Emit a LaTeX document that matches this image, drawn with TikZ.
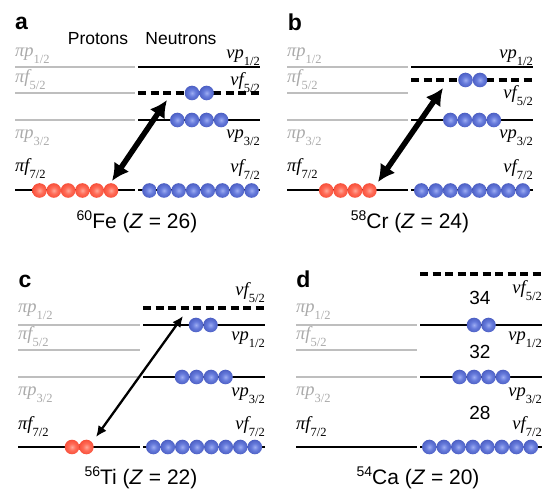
\documentclass[tikz,border=0pt]{standalone}
\usepackage{fontspec}
\setmainfont{Liberation Sans}
\newfontfamily\lserif{Liberation Serif}
\usetikzlibrary{arrows.meta}
\definecolor{lvgray}{HTML}{BEBEBE}
\definecolor{lbgray}{HTML}{AAAAAA}
\pgfdeclareradialshading{bluesph}{\pgfpoint{0bp}{0bp}}{rgb(0bp)=(0.62,0.68,0.95); rgb(12bp)=(0.40,0.48,0.86); rgb(35bp)=(0.23,0.30,0.70); rgb(50bp)=(0.16,0.21,0.56); rgb(75bp)=(0.16,0.21,0.56)}
\pgfdeclareradialshading{redsph}{\pgfpoint{0bp}{0bp}}{rgb(0bp)=(1,0.66,0.60); rgb(12bp)=(1,0.42,0.34); rgb(35bp)=(0.95,0.24,0.15); rgb(50bp)=(0.84,0.16,0.10); rgb(75bp)=(0.84,0.16,0.10)}
\newcommand\orb[3]{{\lserif\fontsize{18.5}{18.5}\selectfont\itshape #1#2\raisebox{-7pt}{\upshape\fontsize{12.5}{12.5}\selectfont #3}}}
\newcommand\nuc[3]{{\fontsize{14}{14}\selectfont\raisebox{8pt}{#1}}#2 (\textit{Z} = #3)}
\tikzset{
  lvl/.style={line width=2pt},
  glvl/.style={line width=2pt, draw=lvgray},
  dlvl/.style={line width=3.6pt, dash pattern=on 8pt off 4.5pt},
  nb/.style={circle, minimum size=14.6pt, inner sep=0pt, shade, shading=bluesph},
  pb/.style={circle, minimum size=14.6pt, inner sep=0pt, shade, shading=redsph},
  plab/.style={anchor=base west, inner sep=0pt, text=lbgray},
  plabk/.style={anchor=base west, inner sep=0pt},
  nlab/.style={anchor=base east, inner sep=0pt},
  panel/.style={font=\fontsize{23}{23}\selectfont\bfseries, anchor=base, inner sep=0pt},
  captext/.style={font=\fontsize{17.5}{20}\selectfont, anchor=base, inner sep=0pt},
  nuctext/.style={font=\fontsize{21}{24}\selectfont, anchor=base, inner sep=0pt},
  magic/.style={font=\fontsize{19}{22}\selectfont, anchor=base, inner sep=0pt},
  bigarr/.style={line width=5.5pt, {Latex[length=17pt,width=18pt]}-{Latex[length=17pt,width=18pt]}},
  thinarr/.style={line width=2.3pt, {Latex[length=11pt,width=10pt]}-{Latex[length=11pt,width=10pt]}}
}
\begin{document}
\begin{tikzpicture}[x=1pt,y=-1pt]
\useasboundingbox (0,0) rectangle (550,500);
% ---------------- panel a ----------------
\node[panel] (la) at (21.5,30) {a};
\node[captext] (prot) at (98,45) {Protons};
\node[captext] (neut) at (181,45) {Neutrons};
\draw[glvl] (15,67) -- (135,67);
\draw[glvl] (15,93) -- (135,93);
\draw[glvl] (15,120) -- (135,120);
\draw[lvl] (15,190.5) -- (135,190.5);
\draw[lvl] (138,67) -- (260,67);
\draw[dlvl] (138,93) -- (260,93);
\draw[lvl] (138,120) -- (260,120);
\draw[lvl] (138,190.5) -- (260,190.5);
\node[plab] (a-pp1) at (15,56.5) {\orb{π}{p}{1/2}};
\node[plab] (a-pf5) at (15,82.5) {\orb{π}{f}{5/2}};
\node[plab] (a-pp3) at (15,138.5) {\orb{π}{p}{3/2}};
\node[plabk] (a-pf7) at (15,172) {\orb{π}{f}{7/2}};
\node[nlab] (a-np1) at (260,58.5) {\orb{ν}{p}{1/2}};
\node[nlab] (a-nf5) at (260,85.5) {\orb{ν}{f}{5/2}};
\node[nlab] (a-np3) at (260,139) {\orb{ν}{p}{3/2}};
\node[nlab] (a-nf7) at (260,173) {\orb{ν}{f}{7/2}};
\coordinate (a-lo) at (112,181);
\coordinate (a-hi) at (167,100);
\draw[bigarr] (a-lo) -- (a-hi);
\foreach \i in {0,...,5} \node[pb] (a-r\i) at (39.5+\i*14.3,190.5) {};
\foreach \i in {0,...,7} \node[nb] (a-b\i) at (149.4+\i*14.6,190.5) {};
\foreach \i in {0,...,3} \node[nb] (a-p\i) at (177.3+\i*14.6,120) {};
\foreach \i in {0,1} \node[nb] (a-f\i) at (192+\i*14.6,93) {};
\node[nuctext] (a-cap) at (137,229) {\nuc{60}{Fe}{26}};
% ---------------- panel b ----------------
\node[panel] (lb) at (295,31) {b};
\draw[glvl] (287,67) -- (408,67);
\draw[glvl] (287,93) -- (408,93);
\draw[glvl] (287,120) -- (408,120);
\draw[lvl] (287,190.5) -- (408,190.5);
\draw[lvl] (411,67) -- (533,67);
\draw[dlvl] (411,80) -- (533,80);
\draw[lvl] (411,120) -- (533,120);
\draw[lvl] (411,190.5) -- (533,190.5);
\node[plab] (b-pp1) at (287,56.5) {\orb{π}{p}{1/2}};
\node[plab] (b-pf5) at (287,82.5) {\orb{π}{f}{5/2}};
\node[plab] (b-pp3) at (287,138.5) {\orb{π}{p}{3/2}};
\node[plabk] (b-pf7) at (287,172) {\orb{π}{f}{7/2}};
\node[nlab] (b-np1) at (533,58.5) {\orb{ν}{p}{1/2}};
\node[nlab] (b-nf5) at (533,99) {\orb{ν}{f}{5/2}};
\node[nlab] (b-np3) at (533,139) {\orb{ν}{p}{3/2}};
\node[nlab] (b-nf7) at (533,173) {\orb{ν}{f}{7/2}};
\coordinate (b-lo) at (378,182);
\coordinate (b-hi) at (443,88);
\draw[bigarr] (b-lo) -- (b-hi);
\foreach \i in {0,...,3} \node[pb] (b-r\i) at (326.2+\i*14.4,190.5) {};
\foreach \i in {0,...,7} \node[nb] (b-b\i) at (421.3+\i*14.5,190.5) {};
\foreach \i in {0,...,3} \node[nb] (b-p\i) at (450.3+\i*14.5,120) {};
\foreach \i in {0,1} \node[nb] (b-f\i) at (465.5+\i*14.5,80) {};
\node[nuctext] (b-cap) at (410,229) {\nuc{58}{Cr}{24}};
% ---------------- panel c ----------------
\node[panel] (lc) at (25,288) {c};
\draw[glvl] (18,325) -- (140,325);
\draw[glvl] (18,350) -- (140,350);
\draw[glvl] (18,377) -- (140,377);
\draw[lvl] (18,447) -- (140,447);
\draw[dlvl] (143,308) -- (265,308);
\draw[lvl] (143,325) -- (265,325);
\draw[lvl] (143,377) -- (265,377);
\draw[lvl] (143,447) -- (265,447);
\node[plab] (c-pp1) at (18,313) {\orb{π}{p}{1/2}};
\node[plab] (c-pf5) at (18,340) {\orb{π}{f}{5/2}};
\node[plab] (c-pp3) at (18,395.5) {\orb{π}{p}{3/2}};
\node[plabk] (c-pf7) at (18,430) {\orb{π}{f}{7/2}};
\node[nlab] (c-nf5) at (265,296) {\orb{ν}{f}{5/2}};
\node[nlab] (c-np1) at (265,341) {\orb{ν}{p}{1/2}};
\node[nlab] (c-np3) at (265,396) {\orb{ν}{p}{3/2}};
\node[nlab] (c-nf7) at (265,430) {\orb{ν}{f}{7/2}};
\coordinate (c-lo) at (96,437);
\coordinate (c-hi) at (183,316);
\draw[thinarr] (c-lo) -- (c-hi);
\foreach \i in {0,1} \node[pb] (c-r\i) at (72+\i*14.4,447) {};
\foreach \i in {0,...,7} \node[nb] (c-b\i) at (153.3+\i*14.5,447) {};
\foreach \i in {0,...,3} \node[nb] (c-p\i) at (182+\i*14.5,377) {};
\foreach \i in {0,1} \node[nb] (c-q\i) at (196+\i*14.5,325) {};
\node[nuctext] (c-cap) at (141,485) {\nuc{56}{Ti}{22}};
% ---------------- panel d ----------------
\node[panel] (ld) at (303.5,288) {d};
\draw[glvl] (296,325) -- (417,325);
\draw[glvl] (296,350) -- (417,350);
\draw[glvl] (296,377) -- (417,377);
\draw[lvl] (296,447) -- (417,447);
\draw[dlvl] (420,274) -- (542,274);
\draw[lvl] (420,325) -- (542,325);
\draw[lvl] (420,377) -- (542,377);
\draw[lvl] (420,447) -- (542,447);
\node[plab] (d-pp1) at (296,313) {\orb{π}{p}{1/2}};
\node[plab] (d-pf5) at (296,340) {\orb{π}{f}{5/2}};
\node[plab] (d-pp3) at (296,395.5) {\orb{π}{p}{3/2}};
\node[plabk] (d-pf7) at (296,430) {\orb{π}{f}{7/2}};
\node[nlab] (d-nf5) at (542,294) {\orb{ν}{f}{5/2}};
\node[nlab] (d-np1) at (542,341) {\orb{ν}{p}{1/2}};
\node[nlab] (d-np3) at (542,396) {\orb{ν}{p}{3/2}};
\node[nlab] (d-nf7) at (542,430) {\orb{ν}{f}{7/2}};
\node[magic] (d-34) at (480,305) {34};
\node[magic] (d-32) at (480,359) {32};
\node[magic] (d-28) at (480,420) {28};
\foreach \i in {0,...,7} \node[nb] (d-b\i) at (429.3+\i*14.5,447) {};
\foreach \i in {0,...,3} \node[nb] (d-p\i) at (459.5+\i*14.5,377) {};
\foreach \i in {0,1} \node[nb] (d-q\i) at (474+\i*14.5,325) {};
\node[nuctext] (d-cap) at (418,485) {\nuc{54}{Ca}{20}};
\end{tikzpicture}
\end{document}
